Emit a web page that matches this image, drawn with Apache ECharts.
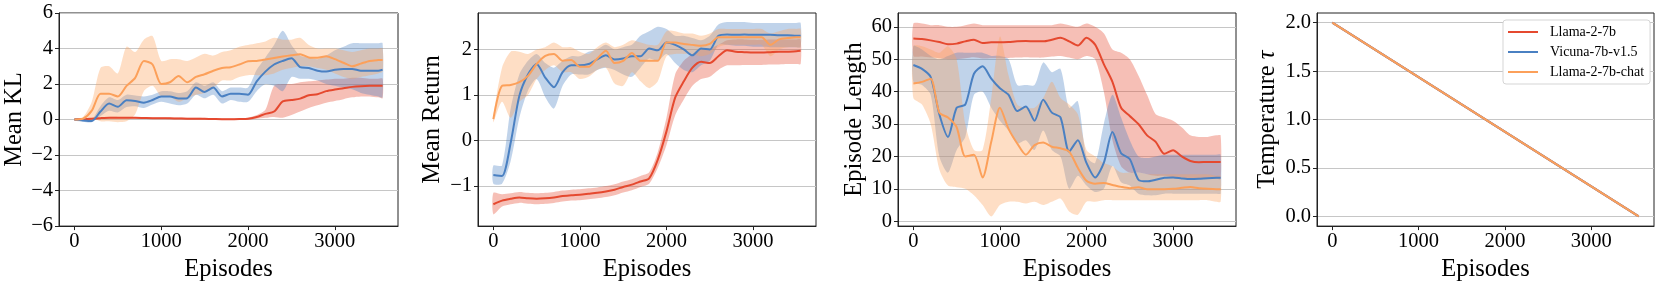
<!DOCTYPE html>
<html><head><meta charset="utf-8">
<script src="https://cdn.jsdelivr.net/npm/echarts@6/dist/echarts.min.js"></script>
<style>html,body{margin:0;padding:0;background:#fff}#c{width:1661px;height:287px}</style>
</head><body><div id="c"></div>
<script>
// ---------- data ----------
const episodes = [0,100,200,300,400,500,600,700,800,900,1000,1100,1200,1300,1400,1500,1600,1700,1800,1900,2000,2100,2200,2300,2400,2500,2600,2700,2800,2900,3000,3100,3200,3300,3400,3500,3550];
const modelNames = ['Llama-2-7b','Vicuna-7b-v1.5','Llama-2-7b-chat'];
const xTicks = [0,1000,2000,3000];

// Mean KL
const klLlamaMean = [0,0.02,0.05,0.08,0.1,0.1,0.1,0.1,0.09,0.08,0.08,0.07,0.06,0.05,0.05,0.04,0.03,0.02,0.02,0.03,0.05,0.14,0.32,0.45,1.02,1.1,1.18,1.37,1.43,1.6,1.69,1.76,1.84,1.88,1.9,1.9,1.9];
const klLlamaLo = [-0.04,-0.03,0,0.03,0.05,0.05,0.05,0.05,0.04,0.03,0.03,0.02,0.01,0,0,-0.01,-0.02,-0.03,-0.03,-0.02,-0.01,0.05,0.1,0.15,0.1,0.25,0.45,0.65,0.8,0.95,1.05,1.15,1.25,1.3,1.3,1.25,1.2];
const klLlamaHi = [0.04,0.07,0.1,0.13,0.15,0.15,0.15,0.15,0.14,0.13,0.13,0.12,0.11,0.1,0.1,0.09,0.08,0.07,0.07,0.08,0.1,0.25,0.55,1.9,2.0,2.0,2.1,2.15,2.2,2.25,2.3,2.3,2.35,2.35,2.3,2.3,2.3];
const klVicunaMean = [0,-0.05,-0.08,0.45,0.9,0.72,1.08,1.05,0.95,1.1,1.3,1.3,1.18,1.2,1.8,1.55,1.8,1.3,1.45,1.45,1.4,2.15,2.7,3.1,3.3,3.45,2.95,2.9,2.75,2.7,2.8,2.85,2.85,2.75,2.75,2.75,2.8];
const klVicunaLo = [-0.05,-0.12,-0.15,0.2,0.5,0.4,0.7,0.75,0.65,0.85,1.0,0.9,0.8,0.9,1.4,1.2,1.4,0.9,1.1,1.0,1.0,1.6,2.0,1.9,1.6,2.4,2.3,2.3,2.2,2.0,1.9,1.8,1.7,1.5,1.4,1.3,1.25];
const klVicunaHi = [0.05,0.02,0.0,0.75,1.25,1.1,1.4,1.35,1.3,1.4,1.6,1.6,1.5,1.6,2.1,1.9,2.1,1.6,1.8,1.8,1.8,2.8,3.5,4.2,5.0,4.2,3.6,3.5,3.4,3.6,3.9,4.1,4.3,4.3,4.3,4.3,4.3];
const klChatMean = [0,0.05,0.5,1.45,1.45,1.3,1.9,2.35,3.3,3.1,2.0,2.1,2.45,2.1,2.4,2.55,2.75,2.9,2.95,3.1,3.28,3.3,3.38,3.47,3.55,3.62,3.68,3.5,3.48,3.56,3.4,3.2,3.0,3.15,3.3,3.35,3.36];
const klChatLo = [-0.02,0,0.1,-0.1,-0.1,-0.15,-0.1,0.3,1.6,1.9,1.3,1.3,1.0,1.2,1.4,1.5,1.8,2.2,2.2,2.4,2.5,2.5,2.5,2.6,2.8,2.9,3.0,3.0,2.9,2.8,2.6,2.4,2.3,2.4,2.5,2.6,2.7];
const klChatHi = [0.05,0.15,1.0,2.9,3.0,2.6,4.1,3.8,4.5,4.7,3.3,3.4,3.4,3.3,3.5,3.7,3.6,3.8,3.9,4.1,4.2,4.3,4.4,4.6,4.5,4.5,4.6,4.2,4.0,4.0,4.0,3.9,3.8,3.9,4.0,4.0,4.0];

// Mean Return
const retLlamaMean = [-1.4,-1.32,-1.28,-1.25,-1.27,-1.28,-1.27,-1.25,-1.22,-1.2,-1.19,-1.17,-1.15,-1.12,-1.08,-1.02,-0.97,-0.9,-0.83,-0.42,0.2,0.94,1.3,1.6,1.73,1.7,1.85,1.98,1.95,1.94,1.93,1.93,1.94,1.95,1.95,1.96,1.97];
const retLlamaLo = [-1.62,-1.45,-1.4,-1.37,-1.39,-1.4,-1.39,-1.37,-1.34,-1.32,-1.31,-1.29,-1.27,-1.24,-1.2,-1.14,-1.09,-1.02,-0.95,-0.6,-0.1,0.55,0.9,1.2,1.35,1.4,1.55,1.65,1.65,1.66,1.66,1.66,1.67,1.67,1.68,1.68,1.68];
const retLlamaHi = [-1.15,-1.18,-1.16,-1.13,-1.15,-1.16,-1.15,-1.13,-1.1,-1.08,-1.07,-1.05,-1.03,-1.0,-0.96,-0.9,-0.85,-0.78,-0.7,-0.25,0.5,1.45,1.75,1.9,2.0,2.02,2.1,2.2,2.22,2.22,2.21,2.21,2.22,2.22,2.22,2.22,2.22];
const retVicunaMean = [-0.76,-0.78,-0.05,0.98,1.45,1.68,1.38,1.17,1.5,1.65,1.65,1.68,1.78,1.87,1.78,1.8,1.85,1.85,2.02,1.98,2.15,2.1,2.0,1.87,2.02,2.0,2.3,2.33,2.32,2.33,2.32,2.32,2.32,2.31,2.31,2.3,2.3];
const retVicunaLo = [-0.95,-0.95,-0.45,0.5,1.1,1.35,0.95,0.7,1.2,1.45,1.45,1.45,1.55,1.6,1.55,1.45,1.4,1.6,1.8,1.75,1.9,1.7,1.55,1.5,1.65,1.75,2.1,2.1,2.08,2.08,2.06,2.06,2.05,2.05,2.05,2.05,2.05];
const retVicunaHi = [-0.55,-0.55,0.7,1.45,1.75,1.9,1.7,1.6,1.75,1.85,1.85,1.95,2.0,2.1,2.0,2.05,2.1,2.3,2.4,2.5,2.45,2.3,2.3,2.25,2.2,2.3,2.55,2.6,2.6,2.6,2.58,2.58,2.58,2.58,2.58,2.58,2.58];
const retChatMean = [0.47,1.2,1.22,1.28,1.42,1.68,1.86,1.9,1.75,1.77,1.62,1.62,1.8,1.97,1.7,1.75,1.92,1.75,1.75,1.75,2.15,2.15,2.12,2.1,2.08,2.12,2.27,2.27,2.27,2.27,2.27,2.27,2.1,2.22,2.25,2.27,2.27];
const retChatLo = [0.4,0.85,0.5,0.85,1.0,1.35,1.55,1.65,1.5,1.5,1.35,1.4,1.55,1.6,1.25,1.2,1.5,1.3,1.15,1.3,1.85,1.9,1.9,1.9,1.85,1.9,2.05,2.1,2.1,2.1,2.1,2.1,1.85,2.0,2.05,2.05,2.05];
const retChatHi = [0.55,1.6,1.95,1.95,1.9,2.0,2.05,2.15,2.05,2.05,1.95,1.9,2.05,2.15,2.05,2.1,2.2,2.15,2.1,2.1,2.4,2.4,2.35,2.35,2.3,2.35,2.45,2.45,2.45,2.45,2.45,2.45,2.35,2.4,2.45,2.45,2.45];

// Episode Length
const lenLlamaMean = [56.4,56.2,55.8,55.3,54.6,54.8,55.5,56,55,55.2,55.2,55.3,55.5,55.6,55.5,55.5,56,56.6,55.5,54.2,56.6,54.5,48.5,43,35,32.5,30,26.5,24.5,20.8,21.9,20,18.6,18.2,18.3,18.3,18.3];
const lenLlamaLo = [51,50.8,50.5,50.3,50,50,50.3,50.6,50.2,50.3,50.3,50.4,50.5,50.6,50.5,50.5,50.8,51,50.5,50,51,50,40,25,17,15,15,14.5,14,14,13.5,13.5,13,13,13,13,13];
const lenLlamaHi = [61,61,60.5,60.5,60,60,60.5,61,60.5,60.5,60.5,60.5,60.5,60.5,60.5,60.5,60.5,61,60.5,60,61,60,58,53,52,50,45,39,33,32,31,29,26.5,26,26,26.5,26.5];
const lenVicunaMean = [48.2,47,44.5,33,26,35,36,45.5,47.8,44,41,39,34,35.4,31,37.5,33.5,32,21.5,25,18,13.5,18,27.5,21,19.2,12.8,12.3,12.8,13.4,13.5,13.2,13,13.1,13.3,13.4,13.4];
const lenVicunaLo = [43,42,39,20,15,22,26,39,40,35,31,28,24,25,22,28,22,20,10,14,11,9,10,17,12,11,8.5,8,8,8.5,8.5,8.5,8.5,8.5,8.5,8.5,8.5];
const lenVicunaHi = [54,53,51,50,51,52,52,52,52,51,51,50,42,42,42,49,46,47,35,37,20,18,30,39,32,25,20,19.5,20,20.5,20.5,20.5,20.5,20.5,20.5,20.5,20.5];
const lenChatMean = [42.5,43,44,33.5,32,29,20,20.5,13.5,24.5,35,28.5,24,20.5,23.5,24.3,23,22.5,21.5,16.5,12.5,11.6,11.8,11.2,10.6,10.2,10.5,9.9,9.9,9.9,10,10.3,10.6,10.2,10,9.9,9.9];
const lenChatLo = [38,36,30,16,11,10.5,10,8,5,1.5,5,6,6,5.5,6,5,6,7,3,2,6,6,6.5,6.5,6.5,6.5,6.5,6.5,6.5,6.5,6.5,6.5,6.5,6.5,6.5,6,6];
const lenChatHi = [54,54,53,52,54,50,30,22,22,38,57,45,36,35,35,38,43,38,36,33,22,20,18,17,15,15,15,14.5,14.5,14.5,14.5,14.5,14.5,14.5,14.5,14,14];

// Temperature schedule
const tempEpisodes = [0, 3550];
const tempValues = [2.0, 0.0];

// tick labels
const klTicks = [-6,-4,-2,0,2,4,6];
const retTicks = [-1,0,1,2];
const lenTicks = [0,10,20,30,40,50,60];
const tempTicks = [0,0.5,1.0,1.5,2.0];

// ---------- styling ----------
const FONT = '"Liberation Serif","DejaVu Serif",serif';
const COLORS = ['#E5492F','#4A80C2','#FCA05A'];
const BAND_OPACITY = 0.35;
const grids = [
  {left:59, top:13, width:339, height:217},
  {left:478, top:13, width:338, height:217},
  {left:898, top:13, width:338, height:217},
  {left:1317, top:13, width:337, height:217}
].map(g => Object.assign({show:true, borderColor:'#222', borderWidth:1, backgroundColor:'#fff'}, g));

const minusFmt = v => v < 0 ? '\u2212' + (-v) : String(v);

function xAxis(i) {
  return {
    type:'value', gridIndex:i, min:-177.5, max:3727.5,
    name:'Episodes', nameLocation:'middle', nameGap:25,
    nameTextStyle:{fontFamily:FONT, fontSize:24.5, color:'#000'},
    axisLine:{show:true, onZero:false, lineStyle:{color:'#222', width:1}},
    axisTick:{show:true, length:4, customValues:xTicks, lineStyle:{color:'#222'}},
    axisLabel:{customValues:xTicks, fontFamily:FONT, fontSize:20.5, color:'#000', margin:5, formatter:v => String(v)},
    splitLine:{show:false}
  };
}
function yAxis(i, min, max, ticks, name, gap, fmt, rich) {
  return {
    type:'value', gridIndex:i, min:min, max:max,
    name:name, nameLocation:'middle', nameGap:gap, nameRotate:90,
    nameTextStyle:{fontFamily:FONT, fontSize:24.5, color:'#000', rich:rich},
    axisLine:{show:true, onZero:false, lineStyle:{color:'#222', width:1}},
    axisTick:{show:true, length:4, customValues:ticks, lineStyle:{color:'#222'}},
    axisLabel:{customValues:ticks, fontFamily:FONT, fontSize:20.5, color:'#000', margin:6, formatter:fmt},
    splitLine:{show:true, lineStyle:{color:'#c6c6c6', width:1}}
  };
}

function band(i, xs, lo, hi, color) {
  return {
    type:'custom', xAxisIndex:i, yAxisIndex:i, silent:true, clip:true, z:1,
    data:[[xs[0], lo[0]]],
    renderItem:function(params, api){
      const pts = [];
      for (let k = 0; k < xs.length; k++) pts.push(api.coord([xs[k], hi[k]]));
      for (let k = xs.length - 1; k >= 0; k--) pts.push(api.coord([xs[k], lo[k]]));
      return {type:'polygon', shape:{points:pts, smooth:0.25}, style:{fill:color, opacity:BAND_OPACITY}};
    }
  };
}
function line(i, xs, ys, name, color) {
  return {
    type:'line', name:name, xAxisIndex:i, yAxisIndex:i, z:3,
    data: xs.map((x,k)=>[x, ys[k]]),
    showSymbol:false, symbol:'none', smooth:0.25, silent:true,
    lineStyle:{color:color, width:2}, itemStyle:{color:color}
  };
}

const panels = [
  {i:0, sets:[[klLlamaMean,klLlamaLo,klLlamaHi],[klVicunaMean,klVicunaLo,klVicunaHi],[klChatMean,klChatLo,klChatHi]]},
  {i:1, sets:[[retLlamaMean,retLlamaLo,retLlamaHi],[retVicunaMean,retVicunaLo,retVicunaHi],[retChatMean,retChatLo,retChatHi]]},
  {i:2, sets:[[lenLlamaMean,lenLlamaLo,lenLlamaHi],[lenVicunaMean,lenVicunaLo,lenVicunaHi],[lenChatMean,lenChatLo,lenChatHi]]}
];

const series = [];
panels.forEach(p => {
  p.sets.forEach((s, k) => series.push(band(p.i, episodes, s[1], s[2], COLORS[k])));
  p.sets.forEach((s, k) => series.push(line(p.i, episodes, s[0], modelNames[k], COLORS[k])));
});
modelNames.forEach((n, k) => series.push(line(3, tempEpisodes, tempValues, n, COLORS[k])));

const option = {
  animation:false,
  backgroundColor:'#fff',
  grid:grids,
  xAxis:[xAxis(0), xAxis(1), xAxis(2), xAxis(3)],
  yAxis:[
    yAxis(0, -6, 6, klTicks, 'Mean KL', 30, minusFmt),
    yAxis(1, -1.88, 2.8, retTicks, 'Mean Return', 33, minusFmt),
    yAxis(2, -1.5, 64.25, lenTicks, 'Episode Length', 31, v => String(v)),
    yAxis(3, -0.1, 2.1, tempTicks, 'Temperature {it|\u03c4}', 37, v => v.toFixed(1),
      {it:{fontFamily:FONT, fontSize:24.5, fontStyle:'italic', color:'#000'}})
  ],
  legend:{
    data:modelNames, orient:'vertical', left:1503, top:20,
    itemWidth:30, itemHeight:14, itemGap:6,
    padding:[5,6,5,4],
    backgroundColor:'#fff', borderColor:'#d5d5d5', borderWidth:1, borderRadius:3,
    itemStyle:{opacity:0},
    textStyle:{fontFamily:FONT, fontSize:14, color:'#000', padding:[0,0,0,7]},
    selectedMode:false
  },
  series:series
};
const chart = echarts.init(document.getElementById('c'), null, {renderer:'canvas'});
chart.setOption(option);
</script></body></html>
